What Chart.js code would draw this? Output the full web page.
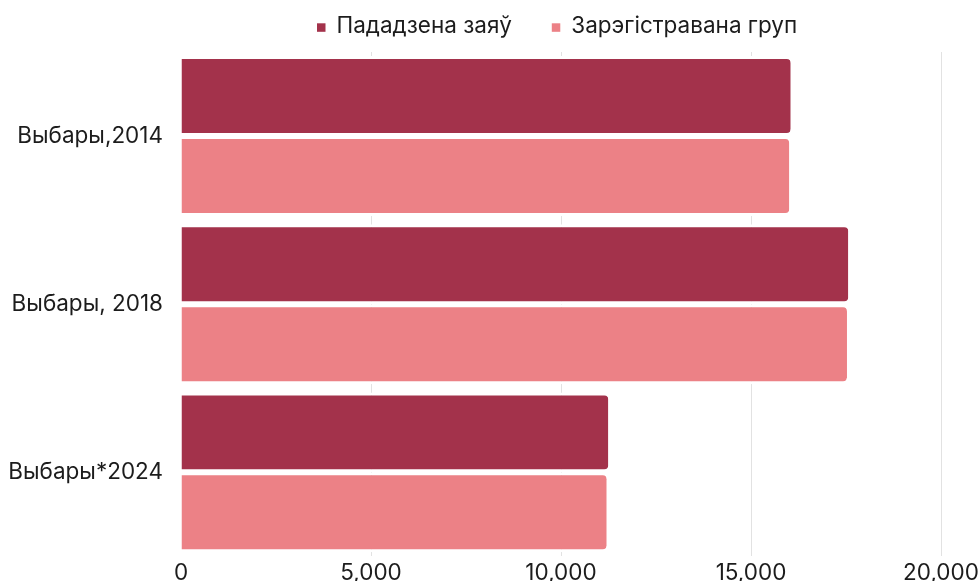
<!DOCTYPE html>
<html>
<head>
<meta charset="utf-8">
<script src="https://cdn.jsdelivr.net/npm/chart.js@4.4.1/dist/chart.umd.min.js"></script>
<style>
  html, body { margin: 0; padding: 0; background: #ffffff; }
  #wrap { width: 979px; height: 581px; position: relative; }
</style>
</head>
<body>
<div id="wrap"><canvas id="c" width="979" height="581"></canvas></div>
<script>
const categories = ['Выбары,2014', 'Выбары, 2018', 'Выбары*2024'];
const seriesNames = ['Пададзена заяў', 'Зарэгістравана груп'];
const submitted = [16045, 17560, 11245];
const registered = [16008, 17526, 11203];
const xTicks = [0, 5000, 10000, 15000, 20000];
const xTickLabels = ['0', '5,000', '10,000', '15,000', '20,000'];
const colors = ['#A3324B', '#EC8186'];

const FONT = 'Inter, "Liberation Sans", Arial, sans-serif';
const FSIZE = 22.5;
const TEXT = '#1c1c1c';

const legendPlugin = {
  id: 'customLegend',
  afterDraw(chart) {
    const ctx = chart.ctx;
    ctx.save();
    ctx.font = FSIZE + 'px ' + FONT;
    ctx.textBaseline = 'alphabetic';
    ctx.textAlign = 'left';
    let x = 317;
    const box = 8.5, gapText = 11, gapItem = 40;
    chart.data.datasets.forEach((ds) => {
      ctx.fillStyle = ds.backgroundColor;
      ctx.fillRect(x, 23.3, box, box);
      x += box + gapText;
      ctx.fillStyle = TEXT;
      ctx.fillText(ds.label, x, 32.5);
      x += ctx.measureText(ds.label).width + gapItem;
    });
    ctx.restore();
  }
};

new Chart(document.getElementById('c'), {
  type: 'bar',
  data: {
    labels: categories,
    datasets: [
      { label: seriesNames[0], data: submitted, backgroundColor: colors[0] },
      { label: seriesNames[1], data: registered, backgroundColor: colors[1] }
    ]
  },
  options: {
    indexAxis: 'y',
    responsive: false,
    animation: false,
    devicePixelRatio: 1,
    layout: { padding: { top: 52, right: 0, bottom: 0, left: 0 } },
    datasets: {
      bar: {
        categoryPercentage: 0.951,
        barPercentage: 1.0,
        borderColor: '#ffffff',
        borderWidth: { top: 3, bottom: 3, left: 0, right: 0 },
        borderRadius: 7,
        borderSkipped: 'start'
      }
    },
    plugins: {
      legend: { display: false },
      tooltip: { enabled: false }
    },
    scales: {
      x: {
        min: 0,
        max: 20000,
        afterBuildTicks(scale) { scale.ticks = xTicks.map(v => ({ value: v })); },
        afterFit(scale) {
          scale.height = 24.6;
          scale.paddingLeft = 0;
          scale.paddingRight = 38;
        },
        grid: {
          color: (c) => (c.tick && c.tick.value === 0) ? 'rgba(0,0,0,0)' : '#e2e2e2',
          lineWidth: 1,
          drawTicks: false
        },
        border: { display: false },
        ticks: {
          padding: 6,
          color: TEXT,
          font: { family: FONT, size: FSIZE, lineHeight: 1.0 },
          maxRotation: 0,
          callback(v) { const i = xTicks.indexOf(v); return i >= 0 ? xTickLabels[i] : ''; }
        }
      },
      y: {
        afterFit(scale) {
          scale.width = 181;
          scale.paddingTop = 0;
          scale.paddingBottom = 0;
        },
        grid: { display: false, drawTicks: false },
        border: { display: false },
        ticks: {
          padding: 18,
          color: TEXT,
          font: { family: FONT, size: FSIZE }
        }
      }
    }
  },
  plugins: [legendPlugin]
});
</script>
</body>
</html>
